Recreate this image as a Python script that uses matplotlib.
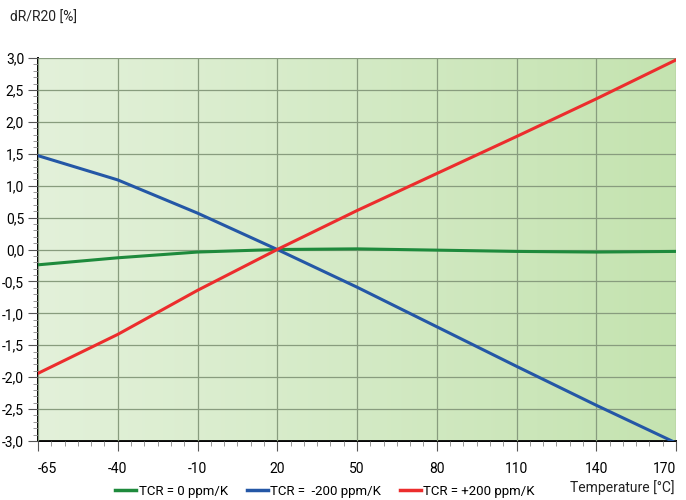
import numpy as np
import matplotlib
matplotlib.use("Agg")
import matplotlib.pyplot as plt
from matplotlib.lines import Line2D

plt.rcParams['font.family']=['Roboto','DejaVu Sans']

temps=[-65,-40,-10,20,50,80,110,140,170]
tcr_0=[-0.24,-0.13,-0.04,0.0,0.01,-0.01,-0.03,-0.04,-0.03]
tcr_m200=[1.47,1.09,0.57,0.0,-0.59,-1.21,-1.83,-2.44,-3.03]
tcr_p200=[-1.94,-1.33,-0.64,0.0,0.61,1.19,1.77,2.36,2.97]
xlabels=["-65","-40","-10","20","50","80","110","140","170"]
ylabels=["3,0","2,5","2,0","1,5","1,0","0,5","0,0","-0,5","-1,0","-1,5","-2,0","-2,5","-3,0"]

# ticks are evenly spaced even though the first step is only 25 K
pos=np.arange(len(temps))
def tx(t):
    return np.interp(t,temps,pos)

fig=plt.figure(figsize=(6.86,5.0),dpi=100)
ax=fig.add_axes([38/686,59/500,638/686,383/500])

# green gradient background
grad=np.linspace(0,1,256).reshape(1,-1)
c0=np.array([0.89,0.945,0.855])
c1=np.array([0.77,0.89,0.69])
img=c0[None,None,:]*(1-grad[...,None])+c1[None,None,:]*grad[...,None]
ax.imshow(img,extent=[0,8,-3,3],aspect='auto',zorder=0)

ax.set_xlim(0,8)
ax.set_ylim(-3,3)
yt=np.arange(3,-3.01,-0.5)
ax.set_yticks(yt)
ax.set_yticklabels(ylabels)
ax.set_yticks(np.arange(-3,3.01,0.1),minor=True)
ax.set_xticks(pos)
ax.set_xticklabels(xlabels)
ax.set_xticks(np.arange(0,8.01,1/6),minor=True)
ax.grid(True,which='major',color='#889c7e',lw=0.9,zorder=1)
for s in ['top','right']:
    ax.spines[s].set_visible(False)
for s in ['left','bottom']:
    ax.spines[s].set_color('black')
    ax.spines[s].set_linewidth(1.4)
ax.tick_params(which='major',length=7,width=0.8,color='#555555',labelsize=10,pad=3)
ax.tick_params(which='minor',length=3.5,width=0.6,color='#888888')
ax.tick_params(axis='x',pad=8)
ax.set_axisbelow(False)
xl=ax.get_xticklabels()
xl[0].set_horizontalalignment('left')
xl[-1].set_horizontalalignment('right')

ax.plot(tx(temps),tcr_0,color='#1e8a3c',lw=2.2,zorder=3)
ax.plot(tx(temps),tcr_m200,color='#2457a6',lw=2.2,zorder=3)
ax.plot(tx(temps),tcr_p200,color='#ec2d2d',lw=2.2,zorder=3)

fig.text(10/686,1-18/500,"dR/R20 [%]",fontsize=10,va='center',ha='left',color='#222222')
fig.text(674/686,1-488/500,"Temperature [°C]",fontsize=10,va='center',ha='right',color='#222222')

handles=[Line2D([],[],color='#1e8a3c',lw=2.5),
         Line2D([],[],color='#2457a6',lw=2.5),
         Line2D([],[],color='#ec2d2d',lw=2.5)]
fig.legend(handles,["TCR = 0 ppm/K","TCR =  -200 ppm/K","TCR = +200 ppm/K"],
           loc='center',bbox_to_anchor=(325/686,1-491/500),ncol=3,frameon=False,
           fontsize=9.5,handlelength=1.6,handletextpad=0.2,columnspacing=1.4)

fig.savefig("out.png",dpi=100)
